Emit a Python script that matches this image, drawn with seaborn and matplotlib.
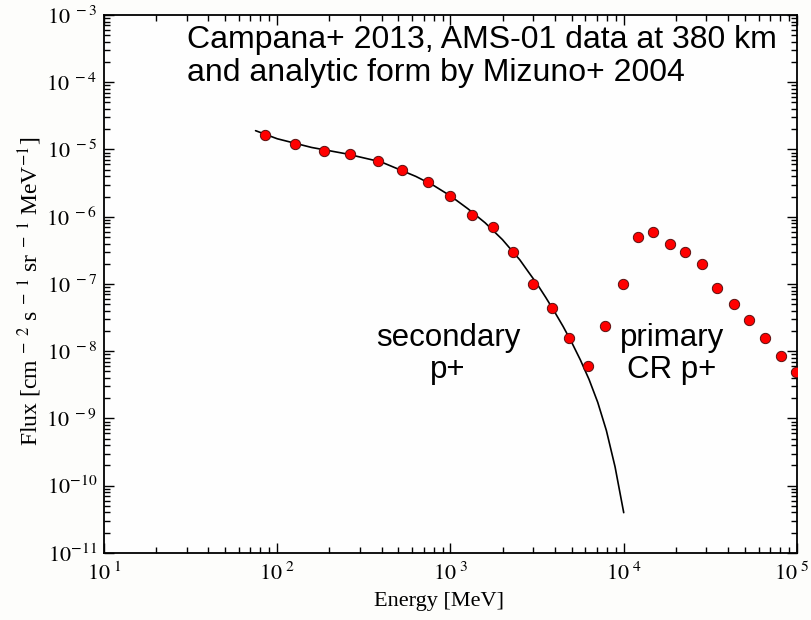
import numpy as np
import matplotlib
matplotlib.use("Agg")
import matplotlib.pyplot as plt
import matplotlib.transforms as mtransforms
import seaborn as sns
from matplotlib.ticker import FixedLocator, LogLocator, FuncFormatter, NullFormatter

# AMS-01 data points (Campana+ 2013)
energy_pts = [85, 127, 187, 264, 380, 527, 738, 998, 1336, 1758, 2311, 3006,
              3837, 4830, 6195, 7830, 9860, 12140, 14750, 18400, 22600, 28300,
              34700, 43500, 53100, 65600, 80900, 98600]
flux_pts = [1.64e-5, 1.21e-5, 9.5e-6, 8.5e-6, 6.8e-6, 4.9e-6, 3.25e-6, 2.06e-6,
            1.07e-6, 6.97e-7, 2.94e-7, 9.9e-8, 4.35e-8, 1.57e-8, 6.1e-9, 2.38e-8,
            9.9e-8, 4.94e-7, 5.87e-7, 3.94e-7, 2.96e-7, 1.98e-7, 8.8e-8, 4.99e-8,
            2.94e-8, 1.57e-8, 8.5e-9, 4.9e-9]

# analytic form (Mizuno+ 2004)
curve_energy = [75, 100, 158, 251, 398, 631, 794, 1000, 1259, 1585, 1995, 2512,
                2818, 3162, 3548, 3981, 4467, 5012, 5623, 6310, 7079, 7943,
                8913, 10000]
curve_flux = [1.905e-5, 1.445e-5, 1.072e-5, 8.61e-6, 6.53e-6, 3.98e-6, 2.95e-6,
              2.04e-6, 1.318e-6, 8.13e-7, 4.57e-7, 2.29e-7, 1.51e-7, 1.0e-7,
              6.31e-8, 3.89e-8, 2.34e-8, 1.35e-8, 7.41e-9, 3.80e-9, 1.74e-9,
              6.61e-10, 1.91e-10, 3.98e-11]

# axis ticks
x_ticks = [1e1, 1e2, 1e3, 1e4, 1e5]
y_ticks = [1e-11, 1e-10, 1e-9, 1e-8, 1e-7, 1e-6, 1e-5, 1e-4, 1e-3]

title_text = "Campana+ 2013, AMS-01 data at 380 km\nand analytic form by Mizuno+ 2004"

sns.set_theme(style="ticks")
plt.rcParams["font.family"] = ["Liberation Serif", "DejaVu Serif"]
plt.rcParams["mathtext.fontset"] = "stix"

fig = plt.figure(figsize=(8.11, 6.20), dpi=100)
bg = "#fdfdfb"
fig.patch.set_facecolor(bg)
ax = fig.add_axes([0.1282, 0.1081, 0.8545, 0.8677])
ax.set_facecolor("#fefefe")
ax.set_xscale("log")
ax.set_yscale("log")

sns.lineplot(x=curve_energy, y=curve_flux, ax=ax, color="black", linewidth=1.2,
             sort=False, zorder=2)
sns.scatterplot(x=energy_pts, y=flux_pts, ax=ax, color="#ff0000",
                edgecolor="#5a1010", s=55, linewidth=0.7, zorder=3)

ax.set_xlim(x_ticks[0], x_ticks[-1])
ax.set_ylim(y_ticks[0], y_ticks[-1])


def fmt(v, pos):
    e = int(round(np.log10(v)))
    sp = r"\ " if abs(e) < 10 else ""
    return r"$10^{%s%d}$" % (sp, e)


ax.xaxis.set_major_locator(FixedLocator(x_ticks))
ax.yaxis.set_major_locator(FixedLocator(y_ticks))
for axis in (ax.xaxis, ax.yaxis):
    axis.set_minor_locator(LogLocator(base=10, subs=np.arange(2, 10), numticks=20))
    axis.set_major_formatter(FuncFormatter(fmt))
    axis.set_minor_formatter(NullFormatter())

ax.tick_params(which="both", direction="in", top=True, right=True,
               colors="black", width=1.0)
ax.tick_params(which="major", length=7, labelsize=16)
ax.tick_params(which="minor", length=4)
ax.tick_params(axis="x", which="major", pad=7)
ax.tick_params(axis="y", which="major", pad=5)
for sp in ax.spines.values():
    sp.set_linewidth(1.3)
    sp.set_color("black")

ax.set_xlabel("Energy [MeV]", fontsize=16, color="black")
ax.set_ylabel(r"Flux [cm$^{\ -\ 2}$ s$^{\ -\ 1}$ sr$^{\ -\ 1}$ MeV$^{-1}$]",
              fontsize=17, color="black")
ax.xaxis.set_label_coords(0.484, -0.072)
ax.yaxis.set_label_coords(-0.086, 0.487)

sans = ["Liberation Sans", "DejaVu Sans"]
ax.text(0.12, 0.981, title_text, transform=ax.transAxes, ha="left", va="top",
        fontsize=23, family=sans, color="black", linespacing=1.12)

ax.text(968, 0.370, "secondary\np+", transform=ax.get_xaxis_transform(),
        ha="center", va="center", multialignment="center", fontsize=22.5,
        family=sans, color="black", linespacing=1.05)
ax.text(18970, 0.370, "primary\nCR p+", transform=ax.get_xaxis_transform(),
        ha="center", va="center", multialignment="center", fontsize=22.5,
        family=sans, color="black", linespacing=1.05)

fig.canvas.draw()
for t in ax.xaxis.get_major_ticks():
    if abs(np.log10(t.get_loc()) - 5) < 1e-6:
        t.label1.set_transform(t.label1.get_transform() +
                               mtransforms.ScaledTranslation(-5 / 100, 0,
                                                             fig.dpi_scale_trans))

fig.savefig("out.png", dpi=100, facecolor=fig.get_facecolor())
